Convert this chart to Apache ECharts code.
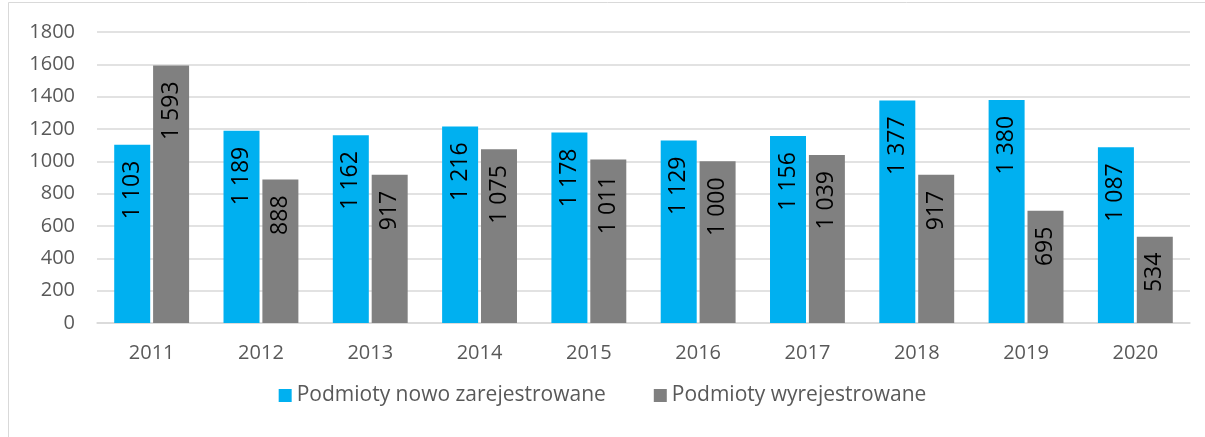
<!DOCTYPE html>
<html>
<head>
<meta charset="utf-8">
<script src="https://cdn.jsdelivr.net/npm/echarts@6/dist/echarts.min.js"></script>
<style>
  html, body { margin: 0; padding: 0; background: #fff; }
  #chart { width: 1205px; height: 437px; }
</style>
</head>
<body>
<div id="chart"></div>
<script>
const years = ['2011', '2012', '2013', '2014', '2015', '2016', '2017', '2018', '2019', '2020'];
const registered = [1103, 1189, 1162, 1216, 1178, 1129, 1156, 1377, 1380, 1087];
const deregistered = [1593, 888, 917, 1075, 1011, 1000, 1039, 917, 695, 534];
const seriesNames = ['Podmioty nowo zarejestrowane', 'Podmioty wyrejestrowane'];

const font = '"Open Sans", "Noto Sans", sans-serif';

// liczby z odstępem tysięcy: 1 593
function fmt(p) {
  return String(p.value).replace(/\B(?=(\d{3})+(?!\d))/g, ' ');
}

const barLabel = {
  show: true,
  position: 'insideTop',
  rotate: 90,
  align: 'right',
  verticalAlign: 'middle',
  distance: 16,
  color: '#000',
  fontFamily: font,
  fontSize: 23,
  formatter: fmt
};

const option = {
  animation: false,
  backgroundColor: '#fff',
  graphic: [{
    type: 'rect',
    shape: { x: 8.5, y: 2.5, width: 1220, height: 450 },
    style: { fill: 'none', stroke: '#d9d9d9', lineWidth: 1 },
    silent: true
  }],
  grid: { left: 97, right: 15, top: 32, bottom: 114 },
  legend: {
    bottom: 26,
    left: 'center',
    itemWidth: 13,
    itemHeight: 13,
    itemGap: 48,
    icon: 'rect',
    textStyle: { color: '#595959', fontFamily: font, fontSize: 21 },
    data: seriesNames
  },
  xAxis: {
    type: 'category',
    data: years,
    axisLine: { lineStyle: { color: '#d9d9d9', width: 1.5 } },
    axisTick: { show: false },
    axisLabel: { color: '#595959', fontFamily: font, fontSize: 20, margin: 20 }
  },
  yAxis: {
    type: 'value',
    min: 0,
    max: 1800,
    interval: 200,
    axisLine: { show: false },
    axisTick: { show: false },
    axisLabel: { color: '#595959', fontFamily: font, fontSize: 20, margin: 22, formatter: v => String(v) },
    splitLine: { lineStyle: { color: '#d9d9d9', width: 1.5 } }
  },
  series: [
    {
      name: seriesNames[0],
      type: 'bar',
      data: registered,
      barWidth: 36,
      barGap: '8%',
      itemStyle: { color: '#00b0f0' },
      label: barLabel
    },
    {
      name: seriesNames[1],
      type: 'bar',
      data: deregistered,
      barWidth: 36,
      itemStyle: { color: '#808080' },
      label: barLabel
    }
  ]
};

let myChart = echarts.init(document.getElementById('chart'));
myChart.setOption(option);
</script>
</body>
</html>
